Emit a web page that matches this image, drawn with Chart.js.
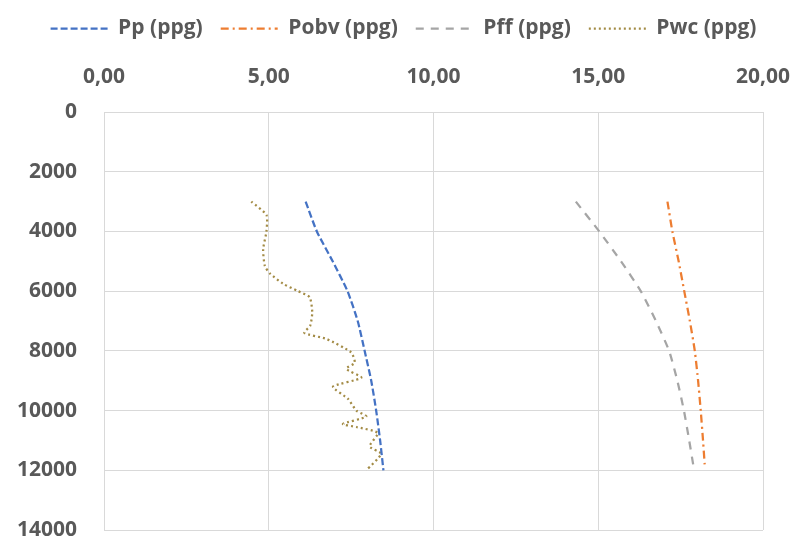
<!DOCTYPE html>
<html>
<head>
<meta charset="utf-8">
<script src="https://cdn.jsdelivr.net/npm/chart.js@4/dist/chart.umd.min.js"></script>
<style>
  html, body { margin: 0; padding: 0; background: #fff; }
  #wrap { width: 797px; height: 542px; }
</style>
</head>
<body>
<div id="wrap"><canvas id="chart"></canvas></div>
<script>
// depth (ft) down the y axis, pressure (ppg) along the top axis
var seriesNames = ["Pp (ppg)", "Pobv (ppg)", "Pff (ppg)", "Pwc (ppg)"];

var ppDepth = [3000, 4000, 5000, 6000, 7000, 8000, 9000, 10000, 11000, 12000];
var ppVals  = [6.12, 6.46, 6.94, 7.39, 7.70, 7.91, 8.11, 8.26, 8.38, 8.48];

var pobvDepth = [3000, 4000, 5000, 6000, 7000, 8000, 9000, 10000, 11000, 11800];
var pobvVals  = [17.10, 17.25, 17.44, 17.61, 17.78, 17.93, 18.03, 18.11, 18.18, 18.23];

var pffDepth = [3000, 4000, 5000, 6000, 7000, 8000, 9000, 10000, 11000, 11800];
var pffVals  = [14.32, 15.03, 15.69, 16.29, 16.75, 17.15, 17.40, 17.60, 17.76, 17.88];

var pwcDepth = [3000, 3450, 4000, 4600, 5150, 5400, 5750, 6000, 6200, 6700, 7150, 7400, 7600,
                8050, 8400, 8600, 8900, 9200, 9600, 10000, 10200, 10450, 10550, 10750, 11200, 11450, 12000];
var pwcVals  = [4.47, 4.93, 4.93, 4.83, 4.88, 5.03, 5.43, 5.89, 6.24, 6.32, 6.26, 6.08, 6.75,
                7.50, 7.61, 7.35, 7.81, 6.95, 7.40, 7.66, 7.96, 7.25, 7.66, 8.31, 8.06, 8.41, 7.96];

var xTicks = [0, 5, 10, 15, 20];
var yTicks = [0, 2000, 4000, 6000, 8000, 10000, 12000, 14000];

function toPoints(depths, vals) {
    return depths.map(function (d, i) { return { x: vals[i], y: d }; });
}

var textColor = "#595959";
var gridColor = "#d9d9d9";
var font = { family: "Open Sans", size: 21, weight: "bold" };

var ctx = document.getElementById("chart").getContext("2d");
var myChart = new Chart(ctx, {
    type: "scatter",
    data: {
        datasets: [{
            label: seriesNames[0],
            data: toPoints(ppDepth, ppVals),
            borderColor: "#4472C4",
            borderWidth: 2.25,
            borderDash: [7, 3]
        }, {
            label: seriesNames[1],
            data: toPoints(pobvDepth, pobvVals),
            borderColor: "#ED7D31",
            borderWidth: 2.25,
            borderDash: [8, 4, 2, 4]
        }, {
            label: seriesNames[2],
            data: toPoints(pffDepth, pffVals),
            borderColor: "#A5A5A5",
            borderWidth: 2.25,
            borderDash: [8, 7]
        }, {
            label: seriesNames[3],
            data: toPoints(pwcDepth, pwcVals),
            borderColor: "#A38B45",
            borderWidth: 2.25,
            borderDash: [2, 3]
        }]
    },
    options: {
        responsive: true,
        maintainAspectRatio: false,
        animation: false,
        showLine: true,
        elements: { point: { radius: 0, hoverRadius: 0 }, line: { tension: 0.2, fill: false } },
        layout: { padding: { top: 0, left: 10, right: 0, bottom: 0 } },
        plugins: {
            tooltip: { enabled: false },
            legend: {
                position: "top",
                labels: {
                    color: textColor,
                    font: font,
                    usePointStyle: true,
                    pointStyle: "line",
                    pointStyleWidth: 57,
                    boxHeight: 21,
                    padding: 18,
                    generateLabels: function (chart) {
                        return chart.data.datasets.map(function (ds, i) {
                            return {
                                text: ds.label,
                                datasetIndex: i,
                                strokeStyle: ds.borderColor,
                                fillStyle: ds.borderColor,
                                fontColor: textColor,
                                lineWidth: ds.borderWidth,
                                lineDash: ds.borderDash,
                                pointStyle: "line",
                                hidden: false
                            };
                        });
                    }
                }
            }
        },
        scales: {
            x: {
                type: "linear",
                position: "top",
                min: 0,
                max: 20,
                afterBuildTicks: function (scale) {
                    scale.ticks = xTicks.map(function (v) { return { value: v }; });
                },
                afterFit: function (scale) {
                    scale.height = 112 - scale.chart.legend.height;
                    scale.paddingRight = 34;
                },
                ticks: {
                    color: textColor,
                    font: font,
                    padding: 22,
                    maxRotation: 0,
                    callback: function (v) { return v.toFixed(2).replace(".", ","); }
                },
                grid: { color: gridColor, lineWidth: 1, drawTicks: false },
                border: { color: gridColor }
            },
            y: {
                type: "linear",
                reverse: true,
                min: 0,
                max: 14000,
                afterBuildTicks: function (scale) {
                    scale.ticks = yTicks.map(function (v) { return { value: v }; });
                },
                afterFit: function (scale) {
                    scale.width = 94;
                    scale.paddingBottom = 12;
                },
                ticks: {
                    color: textColor,
                    font: font,
                    padding: 27,
                    callback: function (v) { return String(v); }
                },
                grid: { color: gridColor, lineWidth: 1, drawTicks: false },
                border: { color: gridColor }
            }
        }
    }
});
</script>
</body>
</html>
